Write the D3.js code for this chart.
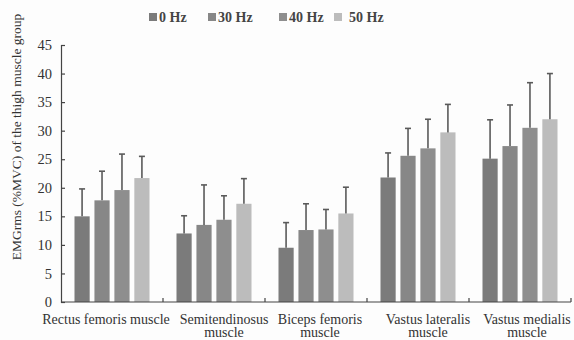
<!DOCTYPE html>
<html><head><meta charset="utf-8">
<script src="https://cdn.jsdelivr.net/npm/d3@7"></script>
<style>body{margin:0;background:#fdfdfd}svg{display:block}</style>
</head><body>
<script>
const categories = [["Rectus femoris muscle"], ["Semitendinosus", "muscle"], ["Biceps femoris", "muscle"], ["Vastus lateralis", "muscle"], ["Vastus medialis", "muscle"]];
const seriesNames = ["0 Hz", "30 Hz", "40 Hz", "50 Hz"];
const hz0  = [15.0, 12.0, 9.5, 21.8, 25.1];
const hz30 = [17.8, 13.5, 12.6, 25.6, 27.3];
const hz40 = [19.6, 14.4, 12.7, 26.9, 30.5];
const hz50 = [21.7, 17.2, 15.5, 29.7, 32.0];
const err0  = [4.8, 3.1, 4.4, 4.3, 6.8];
const err30 = [5.1, 7.0, 4.6, 4.8, 7.2];
const err40 = [6.3, 4.2, 3.5, 5.1, 7.9];
const err50 = [3.8, 4.4, 4.6, 4.9, 8.0];
const yTicks = [0, 5, 10, 15, 20, 25, 30, 35, 40, 45];
const yTitle = "EMGrms (%MVC) of the thigh muscle group";

const colors = ["#7b7b7b", "#878787", "#8e8e8e", "#bcbcbc"];
const values = [hz0, hz30, hz40, hz50];
const errors = [err0, err30, err40, err50];

const W = 574, H = 340;
const svg = d3.select("body").append("svg").attr("width", W).attr("height", H);
const font = "'Liberation Serif', 'Times New Roman', serif";
const textCol = "#333";

const x0 = d3.scaleBand().domain(d3.range(categories.length)).range([61, 571]).paddingInner(0).paddingOuter(0);
const x1 = d3.scaleBand().domain(d3.range(seriesNames.length)).range([0, 75]).paddingInner(0.24).paddingOuter(0);
const y = d3.scaleLinear().domain([0, 45]).range([302, 45]);

const innerPad = (x0.bandwidth() - 75) / 2;

// bars
const g = svg.append("g");
categories.forEach((c, i) => {
  values.forEach((vals, s) => {
    const bx = x0(i) + innerPad + x1(s);
    g.append("rect").attr("x", bx).attr("y", y(vals[i]))
      .attr("width", x1.bandwidth()).attr("height", y(0) - y(vals[i]))
      .attr("fill", colors[s]);
  });
});
// error bars
categories.forEach((c, i) => {
  values.forEach((vals, s) => {
    const cx = x0(i) + innerPad + x1(s) + x1.bandwidth() / 2;
    const top = y(vals[i] + errors[s][i]);
    g.append("line").attr("x1", cx).attr("x2", cx).attr("y1", y(vals[i])).attr("y2", top)
      .attr("stroke", "#5a5a5a").attr("stroke-width", 1.6);
    g.append("line").attr("x1", cx - 3).attr("x2", cx + 3).attr("y1", top).attr("y2", top)
      .attr("stroke", "#5a5a5a").attr("stroke-width", 1.6);
  });
});

// y axis
const yAxis = svg.append("g").attr("transform", "translate(61,0)")
  .call(d3.axisLeft(y).tickValues(yTicks).tickSize(-4).tickPadding(9));
yAxis.select(".domain").attr("stroke", "#444").attr("stroke-width", 1.2);
yAxis.selectAll(".tick line").attr("stroke", "#444").attr("stroke-width", 1.2);
yAxis.selectAll("text").attr("font-family", font).attr("font-size", 14.5).attr("fill", textCol);

// x axis
const xAxisG = svg.append("g").attr("transform", `translate(0,${y(0)})`);
xAxisG.append("line").attr("x1", 61).attr("x2", 571).attr("stroke", "#444").attr("stroke-width", 1.2);
d3.range(1, categories.length + 1).forEach(i => {
  const xx = x0.range()[0] + i * x0.bandwidth();
  xAxisG.append("line").attr("x1", xx).attr("x2", xx).attr("y1", 0).attr("y2", -4)
    .attr("stroke", "#444").attr("stroke-width", 1.2);
});
const labelShift = [-6, 10, 4, 10, 7];
categories.forEach((lines, i) => {
  lines.forEach((ln, k) => {
    svg.append("text").attr("text-anchor", "middle")
      .attr("font-family", font).attr("font-size", 14).attr("fill", textCol)
      .attr("x", x0(i) + x0.bandwidth() / 2 + labelShift[i]).attr("y", 323.5 + k * 13.5).text(ln);
  });
});

// y title
svg.append("text").attr("transform", "translate(21,137) rotate(-90)")
  .attr("text-anchor", "middle").attr("font-family", font).attr("font-size", 13.5)
  .attr("fill", textCol).text(yTitle);

// legend
const legX = [149, 208, 279, 334];
const leg = svg.append("g");
seriesNames.forEach((n, s) => {
  leg.append("rect").attr("x", legX[s]).attr("y", 13).attr("width", 8).attr("height", 8).attr("fill", colors[s]);
  leg.append("text").attr("x", legX[s] + (s === 3 ? 15 : 10)).attr("y", 22)
    .attr("font-family", font).attr("font-size", 14).attr("font-weight", "bold").attr("fill", "#444").text(n);
});
</script>
</body></html>
